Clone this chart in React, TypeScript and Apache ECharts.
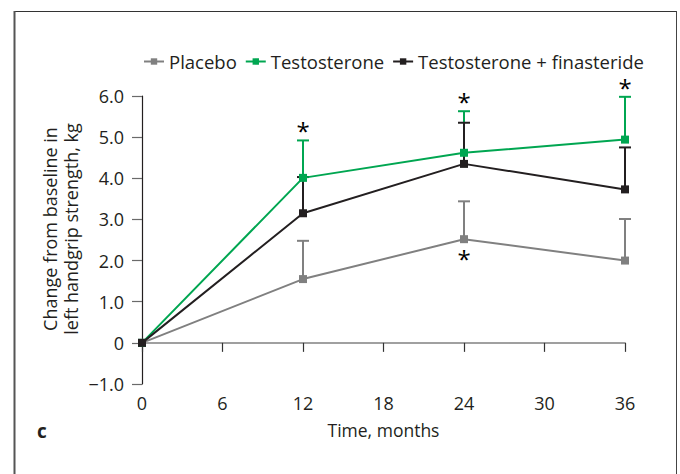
import React, { useEffect, useRef } from "react";
import * as echarts from "echarts";

const months = [0, 12, 24, 36];
const xTicks = [0, 6, 12, 18, 24, 30, 36];
const yTicks = [-1, 0, 1, 2, 3, 4, 5, 6];

const placebo = [0, 1.55, 2.52, 2.0];
const placeboErr = [0, 0.93, 0.92, 1.01];
const testosterone = [0, 4.01, 4.62, 4.94];
const testosteroneErr = [0, 0.91, 1.01, 1.04];
const combo = [0, 3.15, 4.35, 3.73];
const comboErr = [0, 0.88, 1.0, 1.02];

const seriesNames = ["Placebo", "Testosterone", "Testosterone + finasteride"];
const colors = ["#808080", "#00a651", "#231f20"];

// significance markers: [month, series index]
const sigAbove = [
  [12, 1],
  [24, 1],
  [36, 1],
];
const sigBelow = [[24, 0]];

const FONT = "'Open Sans', 'Noto Sans', sans-serif";
const FS = 18;

export default function App() {
  const ref = useRef<HTMLDivElement>(null);
  useEffect(() => {
    if (!ref.current) return;
    const chart = echarts.init(ref.current, null, { renderer: "svg" });
    const vals = [placebo, testosterone, combo];
    const errs = [placeboErr, testosteroneErr, comboErr];

    const series: any[] = [];
    vals.forEach((v, si) => {
      series.push({
        name: seriesNames[si],
        type: "line",
        xAxisIndex: 0,
        data: months.map((m, i) => [m, v[i]]),
        symbol: "rect",
        symbolSize: 8,
        showSymbol: true,
        lineStyle: { color: colors[si], width: 2 },
        itemStyle: { color: colors[si] },
        z: 2,
      });
      series.push({
        name: seriesNames[si] + " err",
        type: "custom",
        xAxisIndex: 0,
        data: months
          .map((m, i) => [m, v[i], v[i] + errs[si][i]])
          .filter((d) => d[2] > d[1]),
        renderItem: (params: any, api: any) => {
          const x = api.value(0);
          const y = api.value(1);
          const top = api.value(2);
          const p0 = api.coord([x, y]);
          const p1 = api.coord([x, top]);
          return {
            type: "group",
            children: [
              {
                type: "line",
                shape: { x1: p0[0], y1: p0[1], x2: p1[0], y2: p1[1] },
                style: { stroke: colors[si], lineWidth: 2 },
              },
              {
                type: "line",
                shape: { x1: p1[0] - 6, y1: p1[1], x2: p1[0] + 6, y2: p1[1] },
                style: { stroke: colors[si], lineWidth: 2 },
              },
            ],
          };
        },
        z: 2,
      });
    });

    const sigLabel = {
      show: true,
      formatter: "*",
      color: "#000000",
      fontSize: 24,
      fontWeight: "normal",
      lineHeight: 12,
      fontFamily: FONT,
      opacity: 1,
    };
    series.push({
      name: "sigAbove",
      type: "scatter",
      xAxisIndex: 0,
      symbol: "circle",
      symbolSize: 1,
      itemStyle: { color: "rgba(0,0,0,0)" },
      data: sigAbove.map(([m, s]) => {
        const i = months.indexOf(m);
        return [m, vals[s][i] + errs[s][i]];
      }),
      label: { ...sigLabel, position: "top", distance: 3 },
      silent: true,
      z: 3,
    });
    series.push({
      name: "sigBelow",
      type: "scatter",
      xAxisIndex: 0,
      symbol: "circle",
      symbolSize: 1,
      itemStyle: { color: "rgba(0,0,0,0)" },
      data: sigBelow.map(([m, s]) => {
        const i = months.indexOf(m);
        return [m, vals[s][i]];
      }),
      label: { ...sigLabel, position: "bottom", distance: 13 },
      silent: true,
      z: 3,
    });

    chart.setOption({
      animation: false,
      textStyle: { fontFamily: FONT },
      legend: {
        data: seriesNames,
        left: 138,
        top: 47,
        itemWidth: 20,
        itemHeight: 8,
        itemGap: 8,
        textStyle: { fontSize: 18.5, color: "#231f20", fontFamily: FONT },
      },
      grid: { left: 142, right: 55, top: 96, bottom: 90, containLabel: false },
      xAxis: [
        {
          type: "value",
          min: 0,
          max: 36,
          interval: 6,
          axisLine: { show: true, onZero: true, lineStyle: { color: "#808080", width: 1.5 } },
          axisTick: { show: true, length: 9, lineStyle: { color: "#333333", width: 1.2 } },
          axisLabel: { show: false },
          splitLine: { show: false },
        },
        {
          type: "value",
          position: "bottom",
          min: 0,
          max: 36,
          interval: 6,
          axisLine: { show: false, onZero: false },
          axisTick: { show: false },
          axisLabel: {
            show: true,
            margin: 10,
            fontSize: FS,
            color: "#231f20",
            fontFamily: FONT,
            formatter: (v: number) => (xTicks.includes(v) ? String(v) : ""),
          },
          splitLine: { show: false },
          name: "Time, months",
          nameLocation: "middle",
          nameGap: 37,
          nameTextStyle: { fontSize: 17.5, color: "#231f20", fontFamily: FONT },
        },
      ],
      yAxis: {
        type: "value",
        min: -1,
        max: 6,
        interval: 1,
        axisLine: { show: true, onZero: false, lineStyle: { color: "#231f20", width: 1.2 } },
        axisTick: { show: true, length: 10, lineStyle: { color: "#6a6a6a", width: 1.2 } },
        axisLabel: {
          margin: 18,
          fontSize: FS,
          color: "#231f20",
          fontFamily: FONT,
          formatter: (v: number) => {
            if (!yTicks.includes(v)) return "";
            if (v === 0) return "0";
            if (v < 0) return "\u2212" + Math.abs(v).toFixed(1);
            return v.toFixed(1);
          },
        },
        splitLine: { show: false },
      },
      graphic: [
        {
          type: "line",
          shape: { x1: 14, y1: 11.5, x2: 677, y2: 11.5 },
          style: { stroke: "#333333", lineWidth: 1.2 },
        },
        {
          type: "line",
          shape: { x1: 14.5, y1: 11, x2: 14.5, y2: 474 },
          style: { stroke: "#555555", lineWidth: 2 },
        },
        {
          type: "line",
          shape: { x1: 676.5, y1: 11, x2: 676.5, y2: 474 },
          style: { stroke: "#444444", lineWidth: 1 },
        },
        {
          type: "text",
          x: 60,
          y: 229,
          rotation: Math.PI / 2,
          style: {
            text: "Change from baseline in\nleft handgrip strength, kg",
            font: "18px 'Open Sans', 'Noto Sans', sans-serif",
            fill: "#231f20",
            align: "center",
            verticalAlign: "middle",
            lineHeight: 21,
          },
        },
        {
          type: "text",
          x: 42,
          y: 431,
          style: {
            text: "c",
            font: "bold 19px 'Open Sans', 'Noto Sans', sans-serif",
            fill: "#231f20",
            align: "center",
            verticalAlign: "middle",
          },
        },
      ],
      series,
    });
    return () => chart.dispose();
  }, []);
  return (
    <div
      ref={ref}
      style={{ position: "fixed", left: 0, top: 0, width: 680, height: 474, background: "#fff" }}
    />
  );
}
